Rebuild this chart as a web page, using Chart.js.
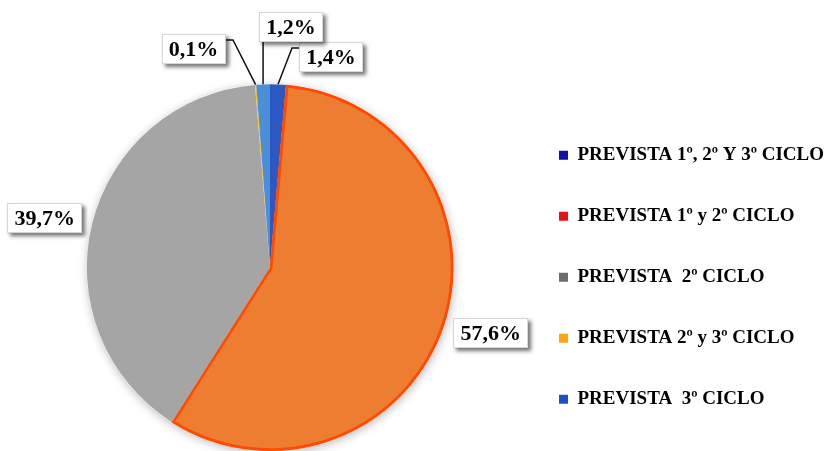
<!DOCTYPE html>
<html>
<head>
<meta charset="utf-8">
<script src="https://cdn.jsdelivr.net/npm/chart.js@4"></script>
<style>
  html, body { margin: 0; padding: 0; background: #fff; }
  #wrap { width: 827px; height: 451px; position: relative; }
</style>
</head>
<body>
<div id="wrap"><canvas id="chart"></canvas></div>
<script>
// Distribución por ciclo (porcentaje del total)
const categories = [
  'PREVISTA 1º, 2º Y 3º CICLO',
  'PREVISTA 1º y 2º CICLO',
  'PREVISTA  2º CICLO',
  'PREVISTA 2º y 3º CICLO',
  'PREVISTA  3º CICLO'
];
const shares = [1.4, 57.6, 39.7, 0.1, 1.2];

const sliceColors = ['#2c58c4', '#ed7d31', '#a5a5a5', '#ffc000', '#4a8fd8'];
const sliceBorders = ['#2c58c4', '#ff4a00', '#a5a5a5', '#ffc000', '#4a8fd8'];
const sliceBorderWidths = [0, 2.5, 0, 0, 0];
const legendColors = ['#1212a2', '#e41414', '#6c6c6c', '#ffa414', '#1c50c8'];

// where each value box sits, relative to the point on the rim at the slice's mid angle
const labelPlacement = [
  { dx: 53, dy: -27, leader: true },
  { dx: 47, dy: 7, leader: false },
  { dx: -47, dy: -6, leader: false },
  { dx: -62, dy: -36, leader: true },
  { dx: 28, dy: -57, leader: true }
];

const serif = '"Liberation Serif", "Times New Roman", serif';
const fmt = v => v.toFixed(1).replace('.', ',') + '%';

// soft halo under the pie
const pieShadow = {
  id: 'pieShadow',
  beforeDatasetsDraw(chart) {
    const arc = chart.getDatasetMeta(0).data[0];
    if (!arc) return;
    const { x, y, outerRadius } = arc.getProps(['x', 'y', 'outerRadius'], true);
    const ctx = chart.ctx;
    ctx.save();
    ctx.shadowColor = 'rgba(0,0,0,0.28)';
    ctx.shadowBlur = 10;
    ctx.shadowOffsetX = 1;
    ctx.shadowOffsetY = 2;
    ctx.fillStyle = '#fff';
    ctx.beginPath();
    ctx.arc(x, y, outerRadius, 0, Math.PI * 2);
    ctx.fill();
    ctx.restore();
  }
};

// boxed percentage labels with leader lines for the thin slices
const valueLabels = {
  id: 'valueLabels',
  afterDatasetsDraw(chart) {
    const ctx = chart.ctx;
    const meta = chart.getDatasetMeta(0);
    ctx.save();
    ctx.font = 'bold 22px ' + serif;
    ctx.textAlign = 'center';
    ctx.textBaseline = 'middle';
    meta.data.forEach((arc, i) => {
      const { x, y, startAngle, endAngle, outerRadius } =
        arc.getProps(['x', 'y', 'startAngle', 'endAngle', 'outerRadius'], true);
      const mid = (startAngle + endAngle) / 2;
      const ex = x + Math.cos(mid) * outerRadius;
      const ey = y + Math.sin(mid) * outerRadius;
      const pos = labelPlacement[i];
      const cx = ex + pos.dx;
      const cy = ey + pos.dy;
      const text = fmt(chart.data.datasets[0].data[i]);
      const w = Math.round(ctx.measureText(text).width + 14);
      const h = 30;
      const left = Math.round(cx - w / 2);
      const top = Math.round(cy - h / 2);

      if (pos.leader) {
        ctx.strokeStyle = '#111';
        ctx.lineWidth = 1.5;
        ctx.beginPath();
        ctx.moveTo(ex, ey);
        if (Math.abs(pos.dx) > w / 2 + 4) {
          const side = pos.dx > 0 ? left : left + w;
          const ay = top + 6;
          ctx.lineTo(side + (pos.dx > 0 ? -7 : 7), ay);
          ctx.lineTo(side, ay);
        } else {
          const ax = Math.min(Math.max(ex, left + 4), left + w - 4);
          ctx.lineTo(ax, top + h);
        }
        ctx.stroke();
      }

      ctx.save();
      ctx.shadowColor = 'rgba(0,0,0,0.55)';
      ctx.shadowBlur = 4;
      ctx.shadowOffsetX = 3;
      ctx.shadowOffsetY = 3;
      ctx.fillStyle = '#fff';
      ctx.fillRect(left, top, w, h);
      ctx.restore();
      ctx.strokeStyle = '#d6d6d6';
      ctx.lineWidth = 1;
      ctx.strokeRect(left + 0.5, top + 0.5, w - 1, h - 1);

      ctx.fillStyle = '#000';
      ctx.fillText(text, cx, top + h / 2 + 1);
    });
    ctx.restore();
  }
};

new Chart(document.getElementById('chart'), {
  type: 'pie',
  data: {
    labels: categories,
    datasets: [{
      data: shares,
      backgroundColor: sliceColors,
      borderColor: sliceBorders,
      borderWidth: sliceBorderWidths,
      borderAlign: 'inner'
    }]
  },
  options: {
    responsive: true,
    maintainAspectRatio: false,
    animation: false,
    devicePixelRatio: 1,
    layout: { padding: { left: 23, top: 84, right: 0, bottom: 0 } },
    plugins: {
      tooltip: { enabled: false },
      legend: {
        position: 'right',
        align: 'center',
        maxWidth: 310,
        // empty title only reserves a little space so the entries sit lower
        title: { display: true, text: '', font: { size: 10 }, padding: { top: 4, bottom: 3.5 } },
        labels: {
          boxWidth: 9,
          boxHeight: 9,
          padding: 42,
          color: '#000',
          font: { family: serif, size: 19, weight: 'bold' },
          generateLabels: () => categories.map((text, i) => ({
            text,
            fillStyle: legendColors[i],
            strokeStyle: legendColors[i],
            lineWidth: 0,
            hidden: false,
            index: i,
            fontColor: '#000'
          }))
        }
      }
    }
  },
  plugins: [pieShadow, valueLabels]
});
</script>
</body>
</html>
